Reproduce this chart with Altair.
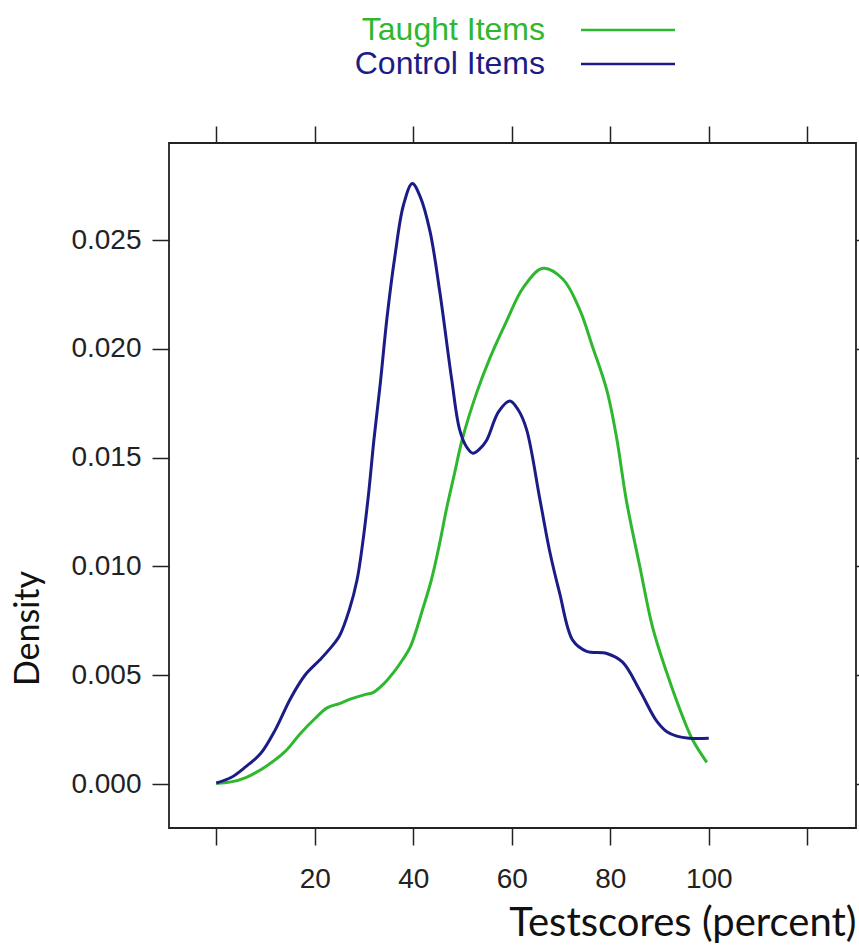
import altair as alt
import pandas as pd

series_names = ["Taught Items", "Control Items"]
series_colors = ["#2fb82f", "#1c1c86"]

control_x = [0, 3, 6, 9, 12, 15, 18, 21, 23, 25, 27, 28.6, 29.8, 31, 32, 33.3, 34.7,
             36.3, 38, 39.8, 41.4, 43.4, 45.4, 47.8, 49.4, 50.8, 52.1, 53.5, 54.9,
             57.3, 59.6, 61.3, 63, 65.7, 67.7, 69.7, 72.4, 75.2, 79.3, 82.5, 86,
             89.4, 91.5, 93.5, 96, 100]
control_y = [0.00005, 0.0003, 0.0008, 0.0014, 0.0025, 0.0039, 0.0050, 0.0057, 0.0062,
             0.0068, 0.0080, 0.0094, 0.0112, 0.0135, 0.0158, 0.0184, 0.0215, 0.0243,
             0.0266, 0.0276, 0.0270, 0.0254, 0.0226, 0.0186, 0.0163, 0.0155, 0.0152,
             0.0154, 0.0158, 0.0171, 0.0176, 0.0172, 0.0163, 0.0131, 0.0107, 0.0088,
             0.0066, 0.0061, 0.0060, 0.0056, 0.0043, 0.0029, 0.0024, 0.0022, 0.0021,
             0.0021]

taught_x = [0, 3, 6, 10, 14, 17, 20, 22.5, 25, 27.2, 30, 31.8, 34, 35.9, 37.8, 39.4,
            42, 43.7, 45.3, 46.8, 48.4, 49.9, 52.9, 55.6, 59, 62.3, 66.3, 70.4, 73.8,
            76.4, 79.3, 81.3, 83.3, 86, 88.6, 91.5, 94.7, 96.8, 99.6]
taught_y = [0.00003, 0.0001, 0.0003, 0.0008, 0.0015, 0.0023, 0.0030, 0.0035, 0.0037,
            0.0039, 0.0041, 0.0042, 0.0046, 0.0051, 0.0057, 0.0063, 0.0081, 0.0094,
            0.0110, 0.0127, 0.0143, 0.0158, 0.0180, 0.0196, 0.0213, 0.0228, 0.0237,
            0.0232, 0.0218, 0.0201, 0.0181, 0.0159, 0.0130, 0.0100, 0.0072, 0.0051,
            0.0031, 0.0020, 0.0010]

x_ticks = [0, 20, 40, 60, 80, 100, 120]
y_ticks = [0.000, 0.005, 0.010, 0.015, 0.020, 0.025]

rows = []
for xv, yv in zip(taught_x, taught_y):
    rows.append({"score": xv, "density": yv, "group": series_names[0], "order": 0})
for xv, yv in zip(control_x, control_y):
    rows.append({"score": xv, "density": yv, "group": series_names[1], "order": 1})
df = pd.DataFrame(rows)

x_scale = alt.Scale(domain=[-9.6, 129.9], nice=False, zero=False)
y_scale = alt.Scale(domain=[-0.00202, 0.02946], nice=False, zero=False)

tick_font = "Liberation Sans"
title_font = "Lato"

x_axis = alt.Axis(
    values=x_ticks, orient="bottom", grid=False, domain=False,
    labelExpr="datum.value == 0 || datum.value == 120 ? '' : datum.label",
    tickSize=17, tickWidth=1.5, tickColor="#222", labelPadding=20,
    labelFont=tick_font, labelFontSize=28, labelColor="#222",
    title="Testscores (percent)", titleFont=title_font, titleFontSize=40,
    titleFontWeight="normal", titleColor="#111", titleAnchor="end",
    titleAlign="right", titleBaseline="alphabetic", titleY=107, titleX=687,
)
y_axis = alt.Axis(
    values=y_ticks, orient="left", grid=False, domain=False, format=".3f",
    tickSize=17, tickWidth=1.5, tickColor="#222", labelPadding=11,
    labelFont=tick_font, labelFontSize=28, labelColor="#222",
    title="Density", titleFont=title_font, titleFontSize=34,
    titleFontWeight="normal", titleColor="#111", titleAngle=270,
    titleAlign="center", titleBaseline="alphabetic", titleX=-131, titleY=485,
)
x_axis_top = alt.Axis(values=x_ticks, orient="top", grid=False, domain=False,
                      labels=False, title=None, tickSize=17, tickWidth=1.5,
                      tickColor="#222")
y_axis_right = alt.Axis(values=y_ticks, orient="right", grid=False, domain=False,
                        labels=False, title=None, tickSize=17, tickWidth=1.5,
                        tickColor="#222")

label_color_expr = ("datum.label == '" + series_names[0] + "' ? '" + series_colors[0]
                    + "' : '" + series_colors[1] + "'")

legend = alt.Legend(
    title=None, orient="none", legendX=443, legendY=-129, direction="vertical",
    symbolType="M-4,0H4", symbolSize=552, symbolStrokeWidth=2.5,
    labelFont=tick_font, labelFontSize=32, labelAlign="right",
    labelOffset={"expr": "-99"}, labelLimit=600,
    labelColor={"expr": label_color_expr},
    rowPadding=2, padding=0, symbolOpacity=1,
)

color = alt.Color("group:N", scale=alt.Scale(domain=series_names, range=series_colors),
                  legend=legend, sort=series_names)

lines = alt.Chart(df).mark_line(interpolate="catmull-rom", strokeWidth=3, clip=True).encode(
    x=alt.X("score:Q", scale=x_scale, axis=x_axis),
    y=alt.Y("density:Q", scale=y_scale, axis=y_axis),
    color=color,
    detail="group:N",
    order="order:Q",
)

frame = alt.Chart(df).mark_line(opacity=0).encode(
    x=alt.X("score:Q", scale=x_scale, axis=x_axis_top),
    y=alt.Y("density:Q", scale=y_scale, axis=y_axis_right),
    detail="group:N",
)

chart = alt.layer(lines, frame).resolve_axis(x="independent", y="independent").properties(
    width=687, height=685,
    autosize=alt.AutoSizeParams(type="none"),
    padding={"left": 169, "top": 143, "right": 3, "bottom": 117},
    background="white",
).configure_view(stroke="#222", strokeWidth=1.8)

chart.save("out.html", embed_options={"renderer": "svg", "actions": False})
